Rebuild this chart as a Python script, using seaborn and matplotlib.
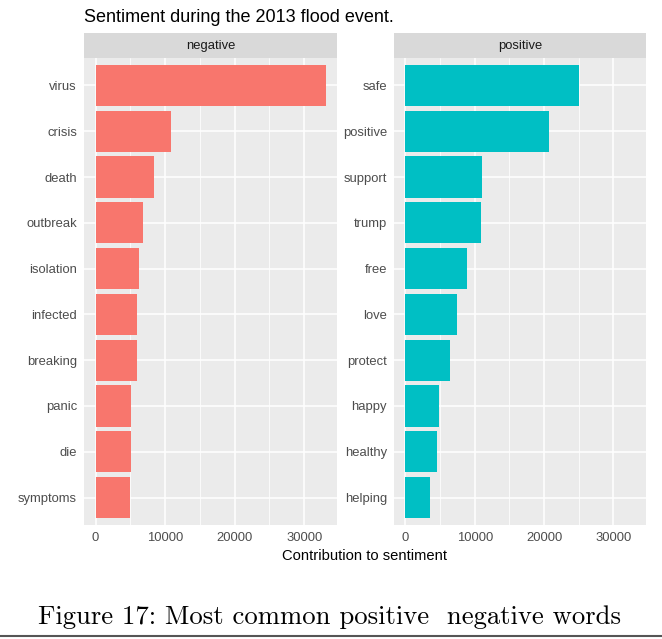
import matplotlib
matplotlib.use("Agg")
import matplotlib.pyplot as plt
from matplotlib.lines import Line2D
from matplotlib.ticker import MultipleLocator
import pandas as pd
import seaborn as sns

# --------------------------------------------------
# data
# --------------------------------------------------
neg_words = ["virus", "crisis", "death", "outbreak", "isolation",
             "infected", "breaking", "panic", "die", "symptoms"]
neg_counts = [33050, 10860, 8360, 6870, 6300, 6020, 6020, 5140, 5140, 5000]

pos_words = ["safe", "positive", "support", "trump", "free",
             "love", "protect", "happy", "healthy", "helping"]
pos_counts = [24980, 20680, 11110, 10970, 8890, 7450, 6430, 4780, 4490, 3480]

x_ticks = [0, 10000, 20000, 30000]

neg_df = pd.DataFrame({"word": neg_words, "n": neg_counts})
pos_df = pd.DataFrame({"word": pos_words, "n": pos_counts})

sns.set_style("white")
plt.rcParams["font.family"] = ["Liberation Sans", "DejaVu Sans"]

W, H = 662, 639


def box(x0, y0, x1, y1):
    return [x0 / W, 1 - y1 / H, (x1 - x0) / W, (y1 - y0) / H]


fig = plt.figure(figsize=(W / 100, H / 100), dpi=100)

xmax = max(neg_counts + pos_counts)
xlim = (-0.05 * xmax, 1.05 * xmax)

panels = [
    (neg_df, "negative", "#F8766D", (84, 58, 337, 525), (84, 33, 337, 58)),
    (pos_df, "positive", "#00BFC4", (394, 58, 646, 525), (394, 33, 646, 58)),
]

for df, name, col, pbox, sbox in panels:
    ax = fig.add_axes(box(*pbox))
    ax.set_facecolor("#EBEBEB")
    sns.barplot(data=df, x="n", y="word", orient="h", color=col,
                saturation=1, width=0.9, edgecolor="none", ax=ax)
    ax.set_xlim(*xlim)
    ax.set_ylim(len(df) - 0.4, -0.6)
    ax.set_xticks(x_ticks)
    ax.set_xticklabels([str(t) for t in x_ticks])
    ax.xaxis.set_minor_locator(MultipleLocator(5000))
    ax.set_axisbelow(True)
    ax.grid(which="major", color="white", lw=1.1)
    ax.grid(which="minor", axis="x", color="white", lw=0.55)
    for s in ax.spines.values():
        s.set_visible(False)
    ax.tick_params(which="major", length=3, width=0.8, color="#333333",
                   labelcolor="#4D4D4D", labelsize=9.4, pad=2)
    ax.tick_params(which="minor", length=0)
    ax.set_xlabel("")
    ax.set_ylabel("")

    sax = fig.add_axes(box(*sbox))
    sax.set_facecolor("#D9D9D9")
    sax.set_xticks([])
    sax.set_yticks([])
    for s in sax.spines.values():
        s.set_visible(False)
    sax.text(0.5, 0.5, name, ha="center", va="center",
             fontsize=9.4, color="#1A1A1A", transform=sax.transAxes)

fig.text(84 / W, 1 - 18 / H, "Sentiment during the 2013 flood event.",
         ha="left", va="center", fontsize=13, color="black")
fig.text(365 / W, 1 - 556 / H, "Contribution to sentiment",
         ha="center", va="center", fontsize=10.6, color="black")
fig.text(329 / W, 1 - 617 / H, "Figure 17: Most common positive  negative words",
         ha="center", va="center", fontsize=19.2, family="cmr10", color="black")
fig.add_artist(Line2D([0, 1], [1 - 636 / H] * 2, color="#555555", lw=1.5,
                      transform=fig.transFigure))

fig.savefig("out.png", dpi=100, facecolor="white")
